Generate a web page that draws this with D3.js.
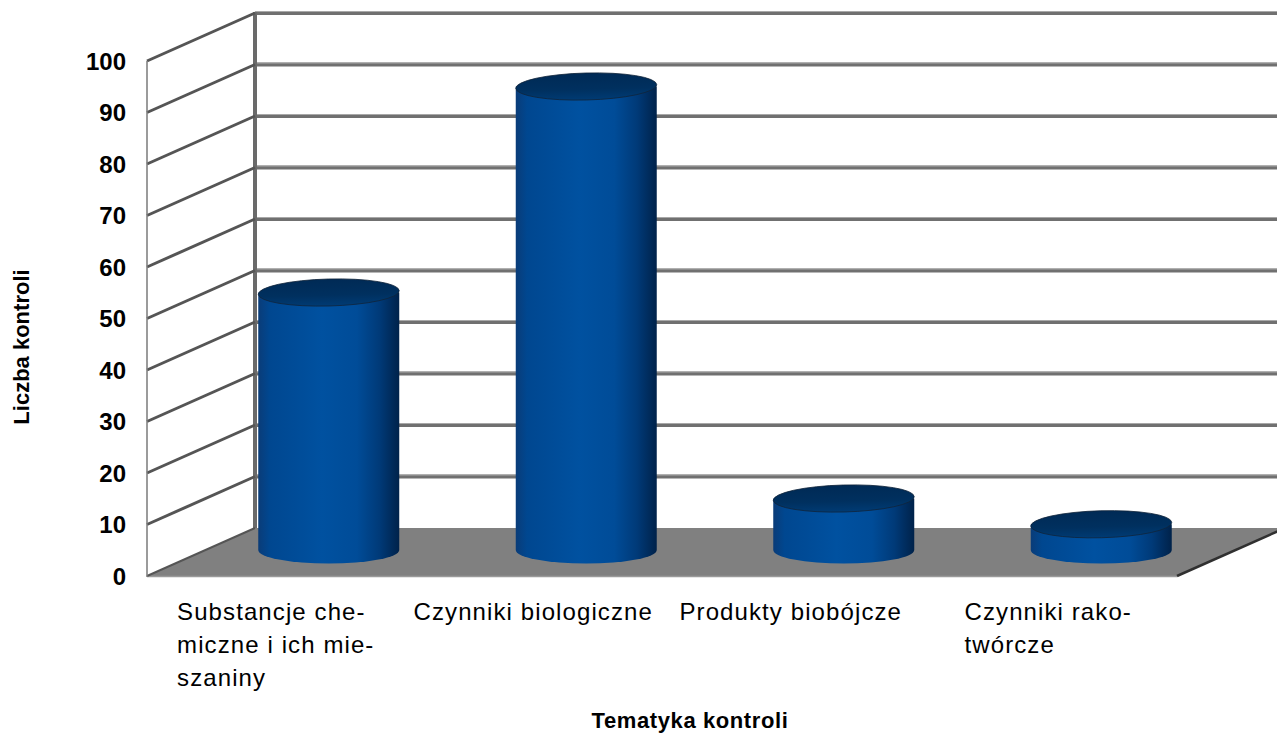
<!DOCTYPE html>
<html>
<head>
<meta charset="utf-8">
<script src="https://cdn.jsdelivr.net/npm/d3@7"></script>
<style>
  html, body { margin: 0; padding: 0; background: #fff; }
  svg { display: block; }
  text { font-family: "Liberation Sans", Arial, sans-serif; fill: #000; }
</style>
</head>
<body>
<svg id="chart" width="1277" height="733"></svg>
<script>
// ---- data ----
const categories = ["Substancje chemiczne i ich mieszaniny", "Czynniki biologiczne", "Produkty biobójcze", "Czynniki rakotwórcze"];
const categoryLines = [
  ["Substancje che-", "miczne i ich mie-", "szaniny"],
  ["Czynniki biologiczne"],
  ["Produkty biobójcze"],
  ["Czynniki rako-", "twórcze"]
];
const values = [50, 90, 10, 5];
const yTicks = [0, 10, 20, 30, 40, 50, 60, 70, 80, 90, 100];
const yTitle = "Liczba kontroli";
const xTitle = "Tematyka kontroli";

// ---- geometry ----
const W = 1277, H = 733;
const frontLeft = 147, frontRight = 1177;
const depthX = 108, depthY = -48;
const svg = d3.select("#chart");

const x = d3.scaleBand().domain(categories).range([frontLeft, frontRight]);
const yFront = d3.scaleLinear().domain([0, 100]).range([576, 61]);
const yBack = v => yFront(v) + depthY;
const cylDX = 53, cylDY = -26;
const yCyl = v => yFront(v) + cylDY;
const rx = 70.5, ry = 13.5;

const defs = svg.append("defs");
const sideGrad = defs.append("linearGradient").attr("id", "sideGrad").attr("x1", "0").attr("x2", "1").attr("y1", "0").attr("y2", "0");
[[0, "#0a3c78"], [0.08, "#004790"], [0.45, "#0051a0"], [0.7, "#004c98"], [0.86, "#003a78"], [1, "#00224a"]]
  .forEach(([o, c]) => sideGrad.append("stop").attr("offset", o).attr("stop-color", c));
const topGrad = defs.append("linearGradient").attr("id", "topGrad").attr("x1", "0").attr("x2", "0").attr("y1", "0").attr("y2", "1");
[[0, "#002a55"], [0.6, "#00305f"], [1, "#003b74"]]
  .forEach(([o, c]) => topGrad.append("stop").attr("offset", o).attr("stop-color", c));

// ---- back wall gridlines ----
const gBack = svg.append("g");
yTicks.filter(v => v > 0).forEach(v => {
  const yy = yBack(v);
  gBack.append("line").attr("x1", frontLeft + depthX).attr("x2", W + 5).attr("y1", yy).attr("y2", yy)
    .attr("stroke", "#707070").attr("stroke-width", 4);
  gBack.append("line").attr("x1", frontLeft + depthX).attr("x2", W + 5).attr("y1", yy - 1.5).attr("y2", yy - 1.5)
    .attr("stroke", "#a8a8a8").attr("stroke-width", 1);
});
gBack.append("line").attr("x1", frontLeft + depthX).attr("x2", frontLeft + depthX)
  .attr("y1", yBack(100) - 1).attr("y2", yBack(0))
  .attr("stroke", "#6a6a6a").attr("stroke-width", 4);

// ---- floor ----
svg.append("path")
  .attr("d", `M${frontLeft},${yFront(0)} L${frontRight},${yFront(0)} L${frontRight + depthX},${yBack(0)} L${frontLeft + depthX},${yBack(0)} Z`)
  .attr("fill", "#808080");
svg.append("line").attr("x1", frontLeft).attr("x2", frontRight).attr("y1", yFront(0) + 0.5).attr("y2", yFront(0) + 0.5)
  .attr("stroke", "#9a9a9a").attr("stroke-width", 1.5);
svg.append("line").attr("x1", frontRight).attr("x2", frontRight + depthX).attr("y1", yFront(0)).attr("y2", yBack(0))
  .attr("stroke", "#303030").attr("stroke-width", 2.5);

// ---- left wall ----
const gLeft = svg.append("g");
yTicks.forEach(v => {
  gLeft.append("line").attr("x1", frontLeft).attr("y1", yFront(v)).attr("x2", frontLeft + depthX).attr("y2", yBack(v))
    .attr("stroke", "#555").attr("stroke-width", v === 0 ? 2 : 3);
});
gLeft.append("line").attr("x1", frontLeft).attr("x2", frontLeft).attr("y1", yFront(100)).attr("y2", yFront(0) + 1)
  .attr("stroke", "#7a7a7a").attr("stroke-width", 1.5);

// ---- cylinders ----
const gCyl = svg.append("g");
categories.forEach((c, i) => {
  const cx = x(c) + x.bandwidth() / 2 + cylDX;
  const yb = yCyl(0), yt = yCyl(values[i]);
  const g = gCyl.append("g");
  g.append("path")
    .attr("d", `M${cx - rx},${yt} L${cx - rx},${yb} A${rx},${ry} 0 0 0 ${cx + rx},${yb} L${cx + rx},${yt} Z`)
    .attr("fill", "url(#sideGrad)");
  g.append("ellipse").attr("cx", cx).attr("cy", yt).attr("rx", rx).attr("ry", ry)
    .attr("transform", `rotate(-1.5 ${cx} ${yt})`)
    .attr("fill", "url(#topGrad)").attr("stroke", "#10243a").attr("stroke-width", 0.8);
});

// ---- y tick labels ----
svg.append("g").selectAll("text").data(yTicks).join("text")
  .attr("x", 126).attr("y", d => yFront(d)).attr("dy", "0.36em")
  .attr("text-anchor", "end").style("font-size", "24px").style("font-weight", "bold")
  .text(d => d);

// ---- category labels ----
categories.forEach((c, i) => {
  const center = x(c) + x.bandwidth() / 2;
  const t = svg.append("text").style("font-size", "24px").style("letter-spacing", "1.1px");
  categoryLines[i].forEach((ln, j) => {
    t.append("tspan").attr("x", 0).attr("y", 620 + j * 33).text(ln);
  });
  const w = t.node().getBBox().width;
  t.selectAll("tspan").attr("x", center - w / 2);
});

// ---- axis titles ----
svg.append("text").attr("transform", "translate(29,347) rotate(-90)")
  .attr("text-anchor", "middle").style("font-size", "22px").style("font-weight", "bold").text(yTitle);
svg.append("text").attr("x", 690).attr("y", 728)
  .attr("text-anchor", "middle").style("font-size", "22px").style("font-weight", "bold")
  .style("letter-spacing", "0.6px").text(xTitle);
</script>
</body>
</html>
